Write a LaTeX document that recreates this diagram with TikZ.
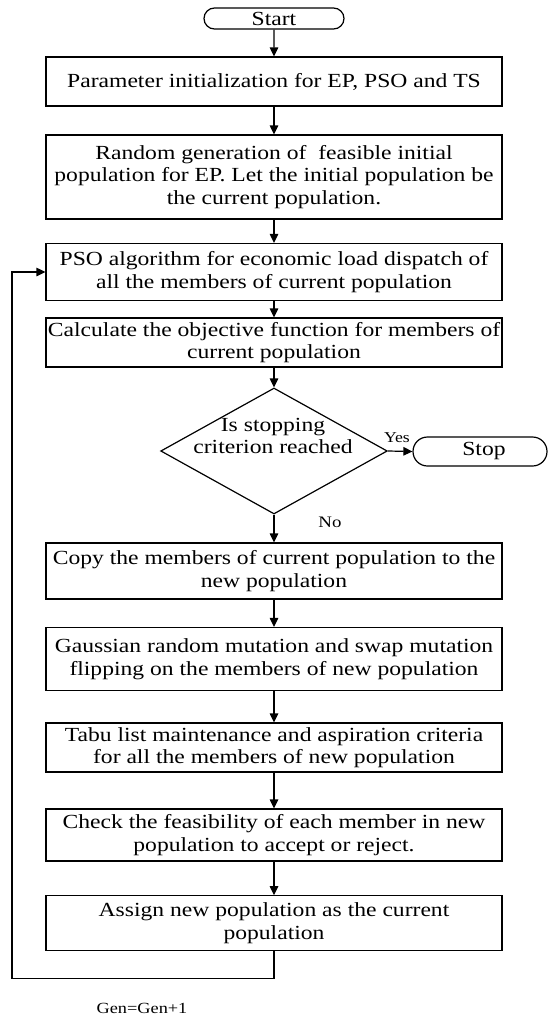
\documentclass[tikz,border=0pt]{standalone}
\usepackage{fontspec}
\setmainfont{Liberation Serif}[FakeStretch=1.18]
\usetikzlibrary{arrows.meta,shapes.misc,shapes.geometric}
\begin{document}
\begin{tikzpicture}[x=1pt,y=-1pt,
  line width=1.2pt,
  txt/.style={font=\fontsize{20}{22.5}\selectfont},
  procbox/.style={draw, rectangle, txt, align=center, minimum width=456pt, inner xsep=1pt, inner ysep=0pt},
  termbox/.style={draw, rounded rectangle, txt, inner sep=0pt},
  arr/.style={-{Triangle[length=9pt,width=8.5pt]}},
  lbl/.style={font=\fontsize{15}{17}\selectfont, inner sep=0pt}]
\useasboundingbox (0,0) rectangle (550,1015);
\node[termbox, minimum width=140pt, minimum height=21pt] (start) at (274,18.5) {Start};
\node[procbox, minimum height=49pt] (b1) at (274,81.5) {Parameter initialization for EP, PSO and TS};
\node[procbox, minimum height=84pt] (b2) at (274,177) {Random generation of \ feasible initial\\population for EP. Let the initial population be\\the current population.};
\node[procbox, minimum height=57pt] (b3) at (274,272) {PSO algorithm for economic load dispatch of\\all the members of current population};
\node[procbox, minimum height=49pt] (b4) at (274,342.5) {Calculate the objective function for members of\\current population};
\node[draw, diamond, minimum width=226.6pt, minimum height=126pt, inner sep=0pt] (dia) at (274,451) {};
\node[txt, align=center, inner sep=0pt] (diat) at (273,436) {Is stopping\\criterion reached};
\node[termbox, minimum width=134pt, minimum height=29pt] (stop) at (480,451.5) {\hspace*{8pt}Stop};
\node[procbox, minimum height=56pt] (b5) at (274,571) {Copy the members of current population to the\\new population};
\node[procbox, minimum height=63pt] (b6) at (274,659) {Gaussian random mutation and swap mutation\\flipping on the members of new population};
\node[procbox, minimum height=49pt] (b7) at (274,747.5) {Tabu list maintenance and aspiration criteria\\for all the members of new population};
\node[procbox, minimum height=52pt] (b8) at (274,835) {Check the feasibility of each member in new\\population to accept or reject.};
\node[procbox, minimum height=54.5pt] (b9) at (274,923) {Assign new population as the current\\population};
\node[lbl] (yes) at (397,438) {Yes};
\node[lbl, font=\fontsize{16}{18}\selectfont] (no) at (330,522) {No};
\node[lbl, font=\fontsize{15.5}{18}\selectfont] (gen) at (142,1008) {Gen=Gen+1};
\coordinate (lb) at (12,978.5);
\draw[arr] (start) -- (b1);
\draw[arr] (b1) -- (b2);
\draw[arr] (b2) -- (b3);
\draw[arr] (b3) -- (b4);
\draw[arr] (b4) -- (dia.north);
\draw[arr] (dia.east) -- (stop.west);
\draw[arr] (dia.south) -- (b5);
\draw[arr] (b5) -- (b6);
\draw[arr] (b6) -- (b7);
\draw[arr] (b7) -- (b8);
\draw[arr] (b8) -- (b9);
\draw[arr] (b9.south) |- (lb) |- (b3.west);
\end{tikzpicture}
\end{document}
